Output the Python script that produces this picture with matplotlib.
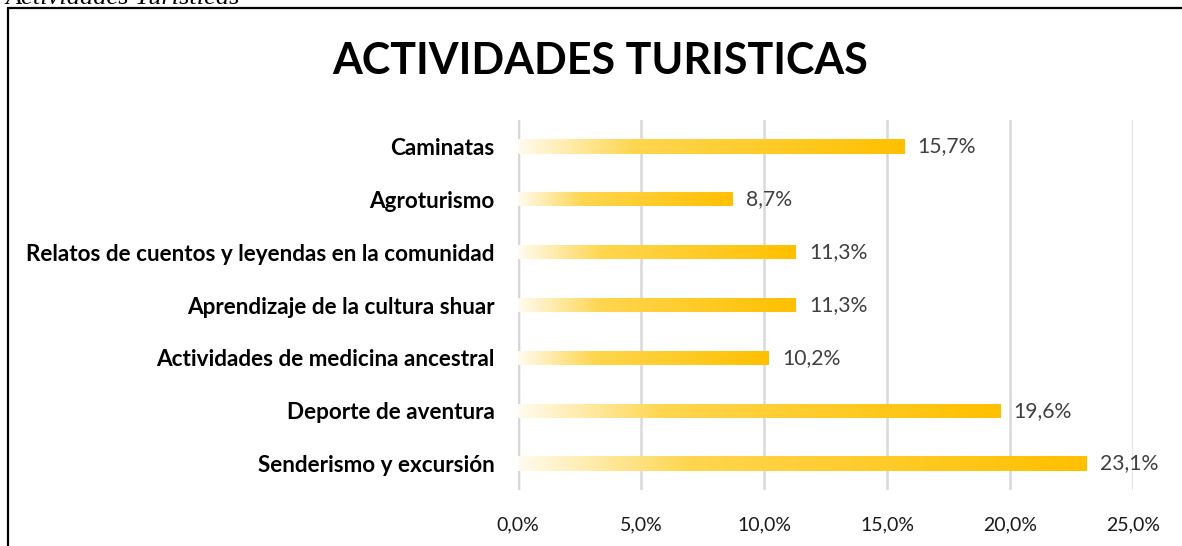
import matplotlib
matplotlib.use("Agg")
import matplotlib.pyplot as plt
import numpy as np
from matplotlib.colors import LinearSegmentedColormap
from matplotlib.patches import Rectangle

categories = ["Senderismo y excursión", "Deporte de aventura", "Actividades de medicina ancestral",
              "Aprendizaje de la cultura shuar", "Relatos de cuentos y leyendas en la comunidad",
              "Agroturismo", "Caminatas"]
values = [23.1, 19.6, 10.2, 11.3, 11.3, 8.7, 15.7]
xticks = [0, 5, 10, 15, 20, 25]
title = "ACTIVIDADES TURISTICAS"
caption = "Actividades Turísticas"

W, H = 1182, 546
fig = plt.figure(figsize=(W / 100, H / 100), dpi=100)
fig.patch.set_facecolor("white")

# outer frame (chart area border)
fig.add_artist(Rectangle((8 / W, -0.1), 1.2, 1 - 8 / H + 0.1, transform=fig.transFigure,
                         fill=False, edgecolor="black", linewidth=1.6))

fig.text(5 / W, 1 - 4 / H, caption, family="Liberation Serif", style="italic",
         fontsize=19, va="baseline", ha="left", color="black")

ax = fig.add_axes([518 / W, 1 - 490 / H, (1133 - 518) / W, (490 - 120) / H])
ax.set_xlim(0, 25)
ax.set_ylim(-0.5, len(categories) - 0.5)
for s in ax.spines.values():
    s.set_visible(False)
ax.set_xticks(xticks)
ax.set_xticklabels([f"{t:.1f}%".replace(".", ",") for t in xticks], family="Lato",
                   fontsize=14, color="#1a1a1a")
ax.tick_params(axis="x", length=0, pad=19)
ax.set_yticks(range(len(categories)))
ax.set_yticklabels(categories, family="Lato", fontweight="bold", fontsize=16.2, color="black")
ax.tick_params(axis="y", length=0, pad=17)
ax.grid(axis="x", color="#D9D9D9", linewidth=1.8)
ax.set_axisbelow(True)
ax.axvline(0, color="#D0D0D0", linewidth=2.5, zorder=0.5)

cmap = LinearSegmentedColormap.from_list(
    "grad", [(0, "#FFFBEF"), (0.3, "#FFD650"), (1.0, "#FFC000")])
grad = np.linspace(0, 1, 256).reshape(1, -1)

bars = ax.barh(range(len(categories)), values, height=0.27, color="none", edgecolor="none")
for b, v in zip(bars, values):
    x0, y0 = b.get_x(), b.get_y()
    w, h = b.get_width(), b.get_height()
    im = ax.imshow(grad, cmap=cmap, extent=(x0, x0 + w, y0, y0 + h), aspect="auto",
                   interpolation="bilinear", zorder=2)
    im.set_clip_path(b)
    ax.text(v + 0.55, b.get_y() + h / 2, f"{v:.1f}%".replace(".", ","), family="Lato",
            fontsize=15.2, color="#404040", va="center", ha="left")

ax.set_xlim(0, 25)
ax.set_ylim(-0.5, len(categories) - 0.5)

fig.text(600 / W, 1 - 61 / H, title, family="Lato", fontweight="bold", fontsize=31,
         ha="center", va="center", color="black")

fig.savefig("out.png", dpi=100)
